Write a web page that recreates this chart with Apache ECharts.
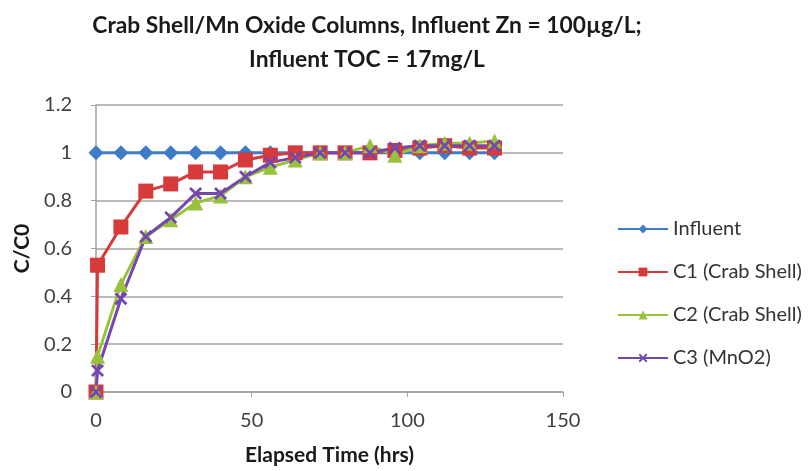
<!DOCTYPE html>
<html>
<head>
<meta charset="utf-8">
<script src="https://cdn.jsdelivr.net/npm/echarts@6/dist/echarts.min.js"></script>
<style>
html,body{margin:0;padding:0;background:#fff;}
#chart{width:809px;height:471px;}
</style>
</head>
<body>
<div id="chart"></div>
<script>
// ---- data ----
const seriesNames = ['Influent', 'C1 (Crab Shell)', 'C2 (Crab Shell)', 'C3 (MnO2)'];
const influentTimes = [0, 8, 16, 24, 32, 40, 48, 56, 64, 72, 80, 88, 96, 104, 112, 120, 128];
const influentValues = [1, 1, 1, 1, 1, 1, 1, 1, 1, 1, 1, 1, 1, 1, 1, 1, 1];
const columnTimes = [0, 0.5, 8, 16, 24, 32, 40, 48, 56, 64, 72, 80, 88, 96, 104, 112, 120, 128];
const c1Values = [0, 0.53, 0.69, 0.84, 0.87, 0.92, 0.92, 0.97, 0.99, 1.0, 1.0, 1.0, 1.0, 1.01, 1.02, 1.03, 1.02, 1.02];
const c2Values = [0, 0.15, 0.45, 0.65, 0.72, 0.79, 0.82, 0.90, 0.94, 0.97, 1.0, 1.0, 1.03, 0.99, 1.03, 1.04, 1.04, 1.05];
const c3Values = [0, 0.09, 0.39, 0.65, 0.73, 0.83, 0.83, 0.90, 0.96, 0.98, 1.0, 1.0, 1.0, 1.02, 1.03, 1.03, 1.03, 1.03];
const xTicks = { min: 0, max: 150, interval: 50 };
const yTicks = { min: 0, max: 1.2, interval: 0.2 };
const titleLines = ['Crab Shell/Mn Oxide Columns, Influent Zn = 100\u00b5g/L;', 'Influent TOC = 17mg/L'];

function pairs(xs, ys) { return xs.map((x, i) => [x, ys[i]]); }

const FONT = 'Lato, "Open Sans", sans-serif';
const colors = ['#3f7cc8', '#d63a3a', '#98c23c', '#7447b0'];
const xPath = 'path://M0,1.5 L1.5,0 L5,3.5 L8.5,0 L10,1.5 L6.5,5 L10,8.5 L8.5,10 L5,6.5 L1.5,10 L0,8.5 L3.5,5 Z';

const chart = echarts.init(document.getElementById('chart'), null, { renderer: 'canvas' });
chart.setOption({
  backgroundColor: '#ffffff',
  animation: false,
  color: colors,
  title: {
    text: titleLines.join('\n'),
    left: 362,
    top: 4,
    textAlign: 'center',
    textStyle: { fontFamily: FONT, fontWeight: 'bold', fontSize: 22.8, lineHeight: 34, color: '#1a1a1a' }
  },
  grid: { left: 96, right: 246, top: 105, bottom: 78, containLabel: false },
  legend: {
    orient: 'vertical',
    left: 612,
    top: 214,
    itemWidth: 50,
    itemHeight: 11,
    itemGap: 23,
    textStyle: { fontFamily: FONT, fontSize: 20, color: '#333' },
    data: seriesNames
  },
  xAxis: {
    type: 'value',
    min: xTicks.min, max: xTicks.max, interval: xTicks.interval,
    name: 'Elapsed Time (hrs)',
    nameLocation: 'middle',
    nameGap: 53,
    nameTextStyle: { fontFamily: FONT, fontWeight: 'bold', fontSize: 21, color: '#1a1a1a' },
    axisLine: { show: true, lineStyle: { color: '#a89c9c', width: 1.5 } },
    axisTick: { show: true, length: 5, lineStyle: { color: '#a89c9c' } },
    axisLabel: { margin: 19, fontFamily: FONT, fontSize: 20, color: '#404040' },
    splitLine: { show: false }
  },
  yAxis: {
    type: 'value',
    min: yTicks.min, max: yTicks.max, interval: yTicks.interval,
    name: 'C/C0',
    nameLocation: 'middle',
    nameRotate: 90,
    nameGap: 63,
    nameTextStyle: { fontFamily: FONT, fontWeight: 'bold', fontSize: 21, color: '#1a1a1a' },
    axisLine: { show: true, lineStyle: { color: '#a89c9c', width: 1.5 } },
    axisTick: { show: true, length: 5, lineStyle: { color: '#a89c9c' } },
    axisLabel: { margin: 24, fontFamily: FONT, fontSize: 20, color: '#404040',
      formatter: v => String(Math.round(v * 10) / 10) },
    splitLine: { show: true, lineStyle: { color: '#a8a0a0', width: 1.5 } }
  },
  series: [
    { name: seriesNames[0], type: 'line', data: pairs(influentTimes, influentValues),
      symbol: 'diamond', symbolSize: 15, lineStyle: { width: 3 } },
    { name: seriesNames[1], type: 'line', data: pairs(columnTimes, c1Values),
      symbol: 'rect', symbolSize: 15, lineStyle: { width: 3 } },
    { name: seriesNames[2], type: 'line', data: pairs(columnTimes, c2Values),
      symbol: 'triangle', symbolSize: 15, lineStyle: { width: 3 } },
    { name: seriesNames[3], type: 'line', data: pairs(columnTimes, c3Values),
      symbol: xPath, symbolSize: 13, lineStyle: { width: 3 } }
  ]
});
</script>
</body>
</html>
